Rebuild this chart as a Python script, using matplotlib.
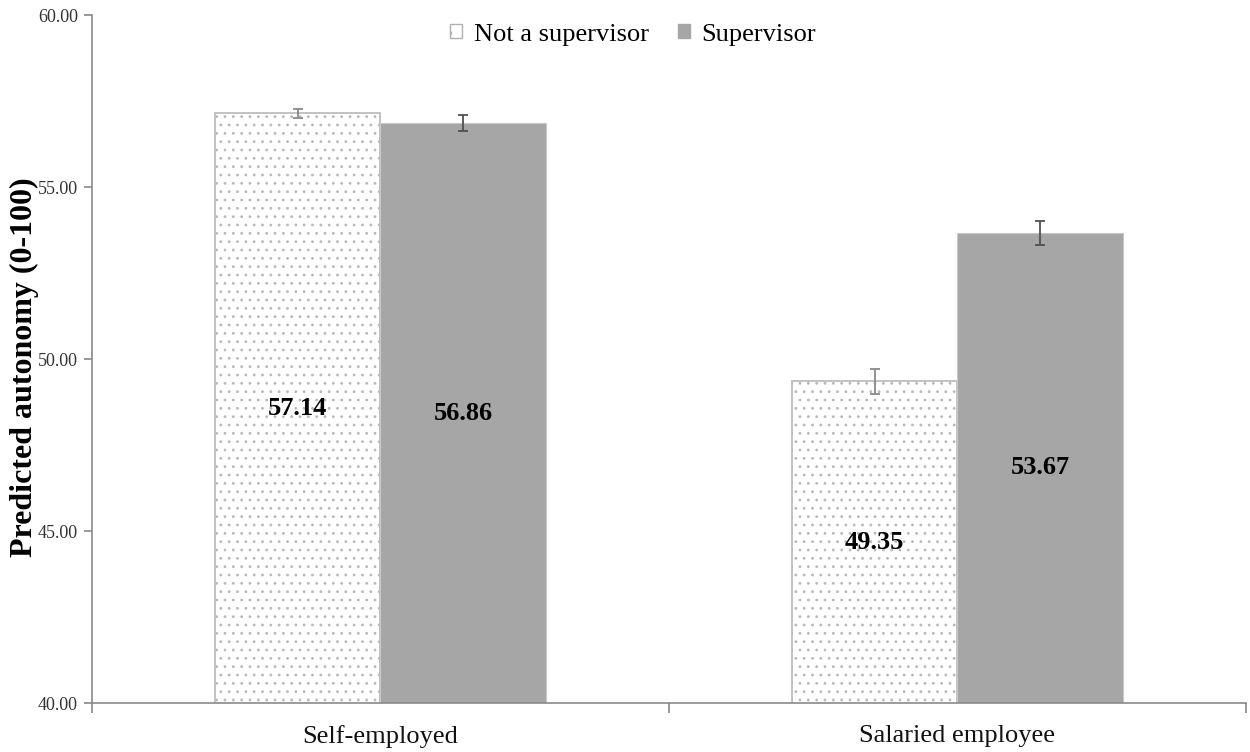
import matplotlib
matplotlib.use("Agg")
import matplotlib.pyplot as plt
from matplotlib.patches import Patch
import numpy as np

plt.rcParams['font.family'] = ['Liberation Serif', 'DejaVu Serif']
plt.rcParams['hatch.linewidth'] = 0.8

categories = ["Self-employed", "Salaried employee"]
series_names = ["Not a supervisor", "Supervisor"]
not_sup = [57.14, 49.35]
sup = [56.86, 53.67]
not_sup_err = [0.14, 0.37]
sup_err = [0.23, 0.35]
y_ticks = [40, 45, 50, 55, 60]

fig = plt.figure(figsize=(12.5, 7.52), dpi=100)
ax = fig.add_axes([0.0736, 0.065, 0.923, 0.915])

x = np.arange(len(categories))
w = 0.287

# dotted fill first, then the outline on top
ax.bar(x - w / 2, not_sup, w, color='white', edgecolor='#b8b8b8',
       hatch='..', linewidth=0, zorder=2)
ax.bar(x - w / 2, not_sup, w, fill=False, edgecolor='#bdbdbd',
       linewidth=1.3, zorder=2)
ax.bar(x + w / 2, sup, w, color='#a6a6a6', edgecolor='#c8c8c8',
       linewidth=0.8, zorder=2)
ax.errorbar(x - w / 2, not_sup, yerr=not_sup_err, fmt='none', ecolor='#8a8a8a',
            elinewidth=1.3, capsize=3.5, capthick=1.3, zorder=3)
ax.errorbar(x + w / 2, sup, yerr=sup_err, fmt='none', ecolor='#505050',
            elinewidth=1.3, capsize=3.5, capthick=1.3, zorder=3)

# value labels in the middle of the visible bar
for xs, vals in [(x - w / 2, not_sup), (x + w / 2, sup)]:
    for xi, v in zip(xs, vals):
        ax.text(xi, (v + 40) / 2, f"{v:.2f}", ha='center', va='center',
                fontsize=19, fontweight='bold', color='black', zorder=4)

ax.set_ylim(40, 60)
ax.set_xlim(-0.5, 1.5)
ax.set_yticks(y_ticks)
ax.set_yticklabels([f"{t:.2f}" for t in y_ticks], fontsize=13, color='#333333')
ax.tick_params(axis='y', direction='out', length=6, color='#888888', width=1.2, pad=4)

ax.set_xticks([-0.5, 0.5, 1.5])
ax.set_xticklabels([])
ax.tick_params(axis='x', direction='out', length=7, color='#888888', width=1.2)
for xi, c in zip(x, categories):
    ax.text(xi, -0.032, c, transform=ax.get_xaxis_transform(), ha='center',
            va='top', fontsize=19, color='#111111')

for s in ['top', 'right']:
    ax.spines[s].set_visible(False)
for s in ['left', 'bottom']:
    ax.spines[s].set_color('#8a8a8a')
    ax.spines[s].set_linewidth(1.2)

fig.text(0.0195, 0.512, "Predicted autonomy (0-100)", rotation=90, ha='center',
         va='center', fontsize=23, fontweight='bold')

handles = [Patch(facecolor='white', edgecolor='#b0b0b0', hatch='.', linewidth=1.0),
           Patch(facecolor='#a6a6a6', edgecolor='#a6a6a6')]
ax.legend(handles, series_names, loc='upper center', bbox_to_anchor=(0.469, 1.022),
          ncol=2, frameon=False, fontsize=19, handlelength=0.45, handleheight=0.45,
          handletextpad=0.45, columnspacing=1.1)

fig.savefig("out.png", dpi=100)
